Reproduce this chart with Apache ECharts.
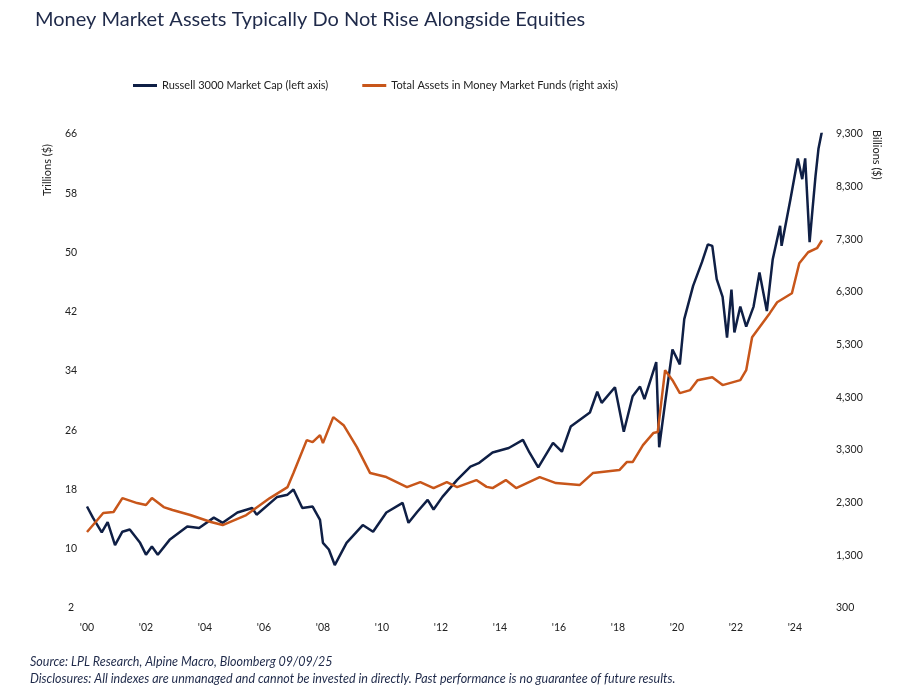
<!DOCTYPE html>
<html lang="en">
<head>
<meta charset="UTF-8">
<title>Money Market Assets</title>
<style>
  html, body { margin: 0; padding: 0; background: #fff; }
  #app { width: 923px; height: 696px; }
</style>
</head>
<body>
<div id="app"></div>
<script src="https://cdn.jsdelivr.net/npm/echarts@6/dist/echarts.min.js"></script>
<script>
// [year, trillions]
var russell = [
  [2000.0, 15.7], [2000.2, 14.2], [2000.5, 12.2], [2000.7, 13.6], [2000.95, 10.5], [2001.2, 12.3],
  [2001.45, 12.6], [2001.8, 10.8], [2002.0, 9.2], [2002.2, 10.3], [2002.4, 9.2], [2002.8, 11.2],
  [2003.4, 13.0], [2003.8, 12.8], [2004.3, 14.2], [2004.6, 13.5], [2005.1, 14.9], [2005.6, 15.5],
  [2005.75, 14.6], [2006.45, 17.0], [2006.8, 17.3], [2007.0, 18.0], [2007.3, 15.5], [2007.65, 15.7],
  [2007.9, 13.9], [2008.0, 10.8], [2008.2, 9.9], [2008.4, 7.8], [2008.8, 10.8], [2009.35, 13.2],
  [2009.7, 12.3], [2010.15, 14.9], [2010.7, 16.2], [2010.9, 13.5], [2011.2, 15.0], [2011.55, 16.6],
  [2011.75, 15.3], [2012.05, 17.0], [2012.55, 19.3], [2013.0, 21.1], [2013.3, 21.6], [2013.75, 23.0],
  [2014.3, 23.6], [2014.78, 24.7], [2015.0, 23.0], [2015.3, 21.0], [2015.8, 24.3], [2016.1, 23.1],
  [2016.4, 26.5], [2017.05, 28.4], [2017.3, 31.2], [2017.45, 29.7], [2017.9, 31.8], [2018.2, 25.8],
  [2018.5, 30.6], [2018.75, 31.9], [2018.9, 30.2], [2019.3, 35.2], [2019.4, 23.7], [2019.6, 29.7],
  [2019.85, 36.9], [2020.1, 34.9], [2020.25, 41.0], [2020.55, 45.5], [2020.85, 48.7], [2021.05, 51.1],
  [2021.2, 50.9], [2021.35, 46.4], [2021.55, 44.0], [2021.7, 38.5], [2021.85, 45.0], [2021.95, 39.2],
  [2022.15, 42.7], [2022.35, 40.0], [2022.6, 42.7], [2022.8, 47.3], [2023.05, 42.1], [2023.25, 49.1],
  [2023.5, 53.6], [2023.55, 50.9], [2023.85, 57.2], [2024.1, 62.7], [2024.25, 59.9], [2024.35, 62.7],
  [2024.5, 51.4], [2024.6, 55.9], [2024.7, 60.3], [2024.8, 64.0], [2024.92, 66.4]
];
// [year, billions]
var moneyMarket = [
  [2000.0, 1742], [2000.35, 1970], [2000.55, 2103], [2000.9, 2122], [2001.2, 2387], [2001.7, 2292],
  [2002.0, 2255], [2002.2, 2387], [2002.6, 2216], [2002.9, 2160], [2003.5, 2065], [2004.2, 1932],
  [2004.6, 1875], [2005.4, 2065], [2006.2, 2387], [2006.8, 2596], [2007.0, 2862], [2007.45, 3488],
  [2007.65, 3450], [2007.9, 3583], [2008.0, 3431], [2008.35, 3924], [2008.7, 3772], [2009.15, 3355],
  [2009.6, 2862], [2010.15, 2786], [2010.85, 2596], [2011.3, 2691], [2011.75, 2577], [2012.2, 2691],
  [2012.55, 2596], [2013.2, 2729], [2013.55, 2600], [2013.75, 2577], [2014.2, 2729], [2014.55, 2577],
  [2015.35, 2786], [2015.9, 2672], [2016.7, 2634], [2017.15, 2862], [2018.05, 2919], [2018.3, 3070],
  [2018.5, 3070], [2018.85, 3393], [2019.2, 3621], [2019.35, 3640], [2019.6, 4816], [2019.85, 4626],
  [2020.1, 4380], [2020.45, 4437], [2020.7, 4626], [2021.2, 4683], [2021.55, 4532], [2022.15, 4626],
  [2022.35, 4816], [2022.55, 5442], [2022.9, 5708], [2023.15, 5898], [2023.4, 6106], [2023.9, 6277],
  [2024.15, 6847], [2024.45, 7055], [2024.75, 7131], [2024.92, 7283]
];
var seriesNames = ['Russell 3000 Market Cap (left axis)', 'Total Assets in Money Market Funds (right axis)'];

var chart = echarts.init(document.getElementById('app'));
var txt = '#222';
var option = {
  animation: false,
  textStyle: { fontFamily: 'Lato' },
  title: {
    text: 'Money Market Assets Typically Do Not Rise Alongside Equities',
    left: 30, top: 5,
    textStyle: { fontSize: 20, fontWeight: 'normal', color: '#1f2a4a' }
  },
  legend: {
    top: 75, left: 128, itemGap: 34, itemWidth: 24, itemHeight: 3,
    icon: 'rect',
    textStyle: { fontSize: 11, color: txt },
    data: seriesNames
  },
  graphic: [{
    type: 'text', left: 30, top: 653,
    style: {
      text: 'Source: LPL Research, Alpine Macro, Bloomberg 09/09/25\nDisclosures: All indexes are unmanaged and cannot be invested in directly. Past performance is no guarantee of future results.',
      font: 'italic 12.5px Lato', fill: '#1f2a4a', lineHeight: 17
    }
  }, {
    type: 'text', x: 42, y: 196, rotation: Math.PI / 2,
    style: { text: 'Trillions ($)', font: '11px Lato', fill: txt }
  }, {
    type: 'text', x: 882, y: 130, rotation: -Math.PI / 2,
    style: { text: 'Billions ($)', font: '11px Lato', fill: txt }
  }],
  grid: { left: 87, right: 101, top: 134, bottom: 88 },
  xAxis: {
    type: 'value', min: 2000, max: 2024.92, interval: 2,
    axisLine: { show: false }, axisTick: { show: false }, splitLine: { show: false },
    axisLabel: {
      color: txt, fontSize: 10.5, margin: 14, showMaxLabel: false,
      formatter: function (v) { return "'" + String(Math.round(v)).slice(2); }
    }
  },
  yAxis: [{
    type: 'value', min: 2, max: 66, interval: 8,
    axisLine: { show: false }, axisTick: { show: false }, splitLine: { show: false },
    axisLabel: { color: txt, fontSize: 10.5, margin: 16, align: 'center' }
  }, {
    type: 'value', min: 300, max: 9300, interval: 1000,
    axisLine: { show: false }, axisTick: { show: false }, splitLine: { show: false },
    axisLabel: {
      color: txt, fontSize: 10.5, margin: 14,
      formatter: function (v) { return v.toLocaleString('en-US'); }
    }
  }],
  series: [{
    name: seriesNames[0], type: 'line', yAxisIndex: 0, data: russell,
    showSymbol: false, lineStyle: { color: '#0f1f45', width: 2.5 }, itemStyle: { color: '#0f1f45' }
  }, {
    name: seriesNames[1], type: 'line', yAxisIndex: 1, data: moneyMarket,
    showSymbol: false, lineStyle: { color: '#c8561a', width: 2.5 }, itemStyle: { color: '#c8561a' }
  }]
};
chart.setOption(option);
</script>
</body>
</html>
